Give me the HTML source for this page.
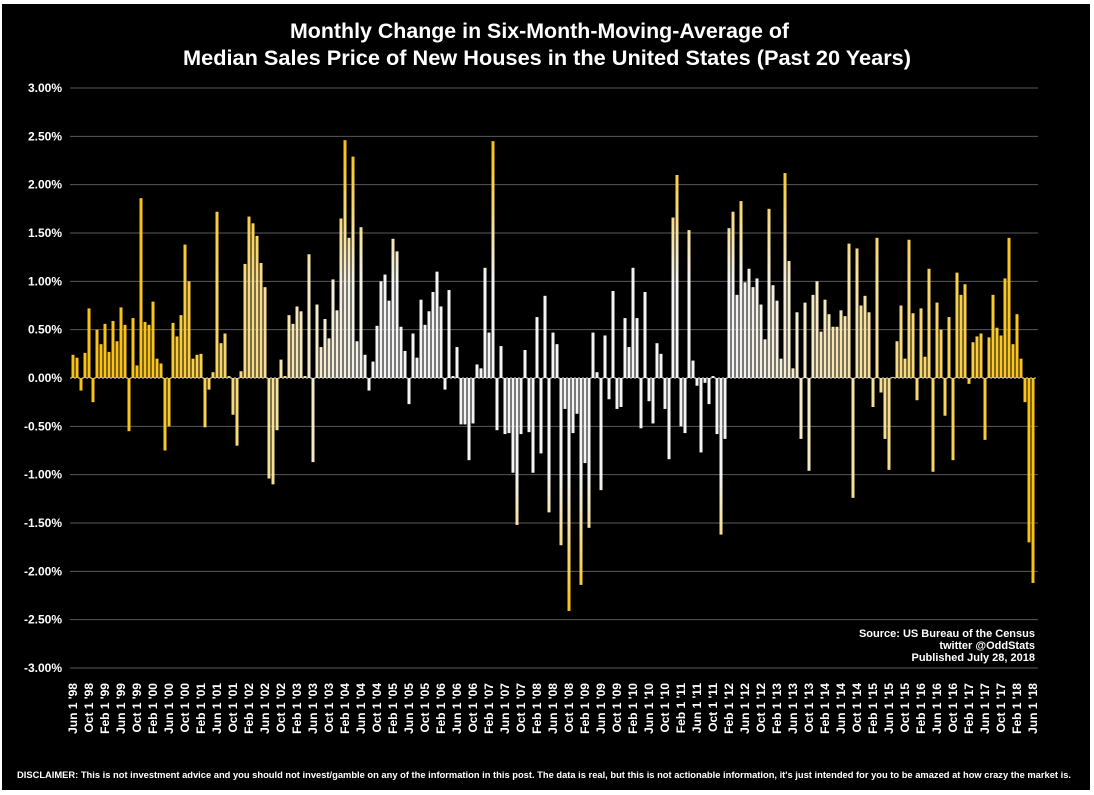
<!DOCTYPE html>
<html><head><meta charset="utf-8"><style>
html,body{margin:0;padding:0;background:#000;}
svg{display:block;font-family:"Liberation Sans",Arial,sans-serif;}
</style></head><body>
<svg id="chart" width="1094" height="795" viewBox="0 0 1094 795" xmlns="http://www.w3.org/2000/svg">
<rect x="0" y="0" width="1094" height="795" fill="#fff"/>
<rect x="2" y="4" width="1088" height="786" fill="#000"/>
<text x="290" y="38" fill="#fff" font-size="21" font-weight="bold" textLength="499" lengthAdjust="spacingAndGlyphs">Monthly Change in Six-Month-Moving-Average of</text>
<text x="183" y="65" fill="#fff" font-size="21" font-weight="bold" textLength="728" lengthAdjust="spacingAndGlyphs">Median Sales Price of New Houses in the United States (Past 20 Years)</text>
<defs id="defs"></defs>
<g id="grid"></g>
<g id="yaxis"></g>
<g id="bars"></g>
<g id="xaxis"></g>
<text x="1035" y="637" text-anchor="end" fill="#fff" font-size="11" font-weight="bold">Source: US Bureau of the Census</text>
<text x="1035" y="649" text-anchor="end" fill="#fff" font-size="11" font-weight="bold">twitter @OddStats</text>
<text x="1035" y="661" text-anchor="end" fill="#fff" font-size="11" font-weight="bold">Published July 28, 2018</text>
<text x="17" y="778" fill="#fff" font-size="9.6" font-weight="bold" textLength="1054" lengthAdjust="spacingAndGlyphs">DISCLAIMER: This is not investment advice and you should not invest/gamble on any of the information in this post. The data is real, but this is not actionable information, it's just intended for you to be amazed at how crazy the market is.</text>
</svg>
<script>
const values = [
0.24,0.21,-0.13,0.26,0.72,-0.25,0.50,0.35,0.56,0.27,0.59,0.38,0.73,0.55,-0.55,0.62,0.13,1.86,0.58,0.55,
0.79,0.20,0.15,-0.75,-0.50,0.57,0.43,0.65,1.38,1.00,0.20,0.24,0.25,-0.51,-0.12,0.06,1.72,0.36,0.46,0.02,
-0.38,-0.70,0.07,1.18,1.67,1.60,1.47,1.19,0.94,-1.04,-1.10,-0.54,0.19,0.02,0.65,0.56,0.74,0.69,0.02,1.28,
-0.87,0.76,0.32,0.61,0.41,1.02,0.70,1.65,2.46,1.45,2.29,0.38,1.56,0.24,-0.13,0.17,0.54,1.00,1.07,0.80,
1.44,1.31,0.53,0.28,-0.27,0.46,0.21,0.81,0.55,0.69,0.89,1.10,0.74,-0.12,0.91,0.02,0.32,-0.48,-0.48,-0.85,
-0.47,0.14,0.10,1.14,0.47,2.45,-0.54,0.33,-0.58,-0.57,-0.98,-1.52,-0.58,0.29,-0.56,-0.98,0.63,-0.78,0.85,-1.39,
0.47,0.35,-1.73,-0.32,-2.41,-0.57,-0.37,-2.14,-0.88,-1.55,0.47,0.06,-1.16,0.44,-0.22,0.90,-0.32,-0.30,0.62,0.32,
1.14,0.62,-0.52,0.89,-0.24,-0.47,0.36,0.25,-0.32,-0.84,1.66,2.10,-0.50,-0.57,1.53,0.18,-0.08,-0.77,-0.05,-0.27,
0.02,-0.58,-1.62,-0.63,1.55,1.72,0.86,1.83,0.99,1.13,0.94,1.03,0.76,0.40,1.75,0.96,0.80,0.20,2.12,1.21,
0.10,0.68,-0.63,0.78,-0.96,0.86,1.00,0.48,0.81,0.66,0.53,0.53,0.70,0.64,1.39,-1.24,1.34,0.75,0.85,0.68,
-0.30,1.45,-0.15,-0.63,-0.95,0.01,0.38,0.75,0.20,1.43,0.67,-0.23,0.72,0.22,1.13,-0.97,0.78,0.50,-0.39,0.63,
-0.85,1.09,0.86,0.97,-0.06,0.37,0.43,0.46,-0.64,0.42,0.86,0.52,0.44,1.03,1.45,0.35,0.66,0.20,-0.25,-1.70,-2.12
];
const yTicks = [3,2.5,2,1.5,1,0.5,0,-0.5,-1,-1.5,-2,-2.5,-3];
const monthNames = ["Jan","Feb","Mar","Apr","May","Jun","Jul","Aug","Sep","Oct","Nov","Dec"];
const startYear = 1998;

const NS = "http://www.w3.org/2000/svg";
const X0 = 73, XSTEP = 4.0, Y0 = 378, PX_PER_PCT = 96.67;
function xScale(i){ return X0 + i*XSTEP; }
function yScale(v){ return Y0 - v*PX_PER_PCT; }
function mk(tag, attrs, parent){ const e=document.createElementNS(NS,tag); for(const k in attrs) e.setAttribute(k, attrs[k]); parent.appendChild(e); return e; }

const grid=document.getElementById('grid'), yaxis=document.getElementById('yaxis');
yTicks.forEach(t=>{
  const y=yScale(t);
  if(t!==0){
    const l=mk('line',{x1:70,x2:1038,y1:y,y2:y,stroke:'#5a5a5a','stroke-width':1},grid);
    
    
  }
  const tx=mk('text',{x:62,y:y+4,'text-anchor':'end',fill:'#fff','font-size':12,'font-weight':'bold'},yaxis);
  tx.textContent=t.toFixed(2)+'%';
  
  
});

function mix(a,b,t){ return a.map((v,k)=>Math.round(v+(b[k]-v)*t)); }
const GOLD=[250,193,14], WHITE=[244,244,244];
function whiteness(i){
  const pts=[[0,0],[20,0.05],[40,0.45],[50,0.6],[62,0.85],[75,1],[165,1],[180,0.85],[200,0.6],[220,0.3],[240,0]];
  for(let k=1;k<pts.length;k++){ if(i<=pts[k][0]){ const [a,wa]=pts[k-1],[b,wb]=pts[k]; return wa+(wb-wa)*(i-a)/(b-a);} }
  return 0;
}
const defs=document.getElementById('defs'), bars=document.getElementById('bars');
values.forEach((v,i)=>{
  const base=mix(GOLD,WHITE,whiteness(i));
  const s=v>=0?1:-1;
  const g=mk('linearGradient',{id:'g'+i,gradientUnits:'userSpaceOnUse',x1:0,x2:0,y1:yScale(s*1.0),y2:yScale(s*2.4)},defs);
  mk('stop',{offset:0,'stop-color':`rgb(${base})`},g);
  mk('stop',{offset:1,'stop-color':`rgb(${GOLD})`},g);
  const y=Math.min(yScale(v),Y0), h=Math.abs(yScale(v)-Y0);
  const r=mk('rect',{x:xScale(i)-1.5,y:y,width:3,height:Math.max(h,0.5),fill:`url(#g${i})`},bars);
  
  
});
const zl=mk('line',{x1:70,x2:1038,y1:Y0,y2:Y0,stroke:'#ddd','stroke-width':1,'stroke-dasharray':'2,2'},bars);



const xaxis=document.getElementById('xaxis');
for(let i=0;i<values.length;i+=4){
  const m=(5+i)%12, yr=startYear+Math.floor((5+i)/12);
  const x=xScale(i)+4;
  const t=mk('text',{x:0,y:0,transform:`translate(${x},683) rotate(-90)`,'text-anchor':'end',fill:'#fff','font-size':12,'font-weight':'bold'},xaxis);
  t.textContent=`${monthNames[m]} 1 '${String(yr%100).padStart(2,'0')}`;
  
  
}
</script>
</body></html>
